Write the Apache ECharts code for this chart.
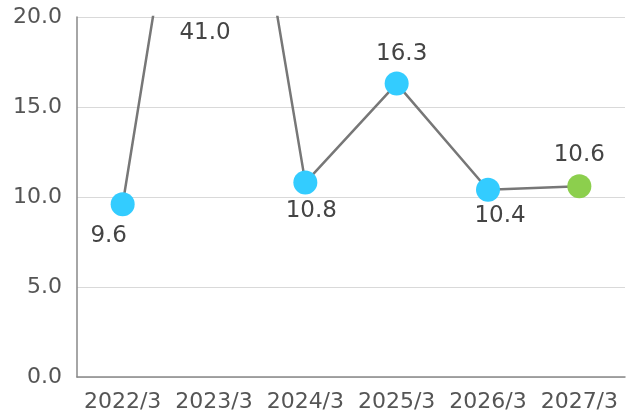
<script src="https://cdnjs.cloudflare.com/ajax/libs/echarts/6.0.0/echarts.min.js"></script>
<style>html, body { margin: 0; padding: 0; background: #fff; }</style>
<div id="main" style="width:632px;height:412px;"></div>
<script type="text/javascript">
  // data
  var categories = ["2022/3", "2023/3", "2024/3", "2025/3", "2026/3", "2027/3"];
  var values = [9.6, 41.0, 10.8, 16.3, 10.4, 10.6];
  var forecast = [false, false, false, false, false, true];
  var yMin = 0, yMax = 20, yStep = 5;

  // label shift from the point centre (style only)
  var labelShift = [[-14, 32], [-9, 16], [6, 28], [5, -30], [12, 26], [0, -31]];

  var blue = "#33ccff";
  var green = "#8ccf4d";
  var textColor = "#444";
  var font = "DejaVu Sans";

  var chart = echarts.init(document.getElementById("main"));

  var lineData = values.map(function (v, i) {
    return {
      value: v,
      itemStyle: { color: forecast[i] ? green : blue },
      label: { show: v <= yMax, offset: labelShift[i] }
    };
  });

  // values above the axis max get their label pinned under the top edge
  var overData = values.map(function (v, i) {
    return v > yMax ? { value: yMax, raw: v, label: { offset: labelShift[i] } } : null;
  });

  var option = {
    animation: false,
    backgroundColor: "#fff",
    grid: { left: 77, right: 7, top: 17, bottom: 35, outerBoundsMode: "none", containLabel: false },
    xAxis: {
      type: "category",
      data: categories,
      axisLine: { lineStyle: { color: "#888", width: 1.5 } },
      axisTick: { show: false },
      axisLabel: { color: "#555", fontSize: 22, fontFamily: font, margin: 3, interval: 0 }
    },
    yAxis: {
      type: "value",
      min: yMin,
      max: yMax,
      interval: yStep,
      axisLine: { show: true, lineStyle: { color: "#888", width: 1.5 } },
      axisTick: { show: false },
      splitLine: { lineStyle: { color: "#d9d9d9", width: 1 } },
      axisLabel: {
        color: "#555", fontSize: 22, fontFamily: font, margin: 15,
        formatter: function (v) { return v.toFixed(1); }
      }
    },
    series: [
      {
        type: "line",
        data: lineData,
        clip: true,
        symbol: "circle",
        symbolSize: 24,
        lineStyle: { color: "#777", width: 2.5 },
        label: {
          position: "inside",
          color: textColor, fontSize: 23, fontFamily: font,
          formatter: function (p) { return p.value.toFixed(1); }
        },
        z: 3
      },
      {
        type: "line",
        data: overData,
        symbol: "circle",
        symbolSize: 1,
        clip: false,
        silent: true,
        itemStyle: { color: "rgba(0,0,0,0)" },
        lineStyle: { width: 0 },
        label: {
          show: true, position: "inside",
          color: textColor, fontSize: 23, fontFamily: font,
          formatter: function (p) { return p.data.raw.toFixed(1); }
        },
        z: 4
      }
    ]
  };

  chart.setOption(option);
</script>
